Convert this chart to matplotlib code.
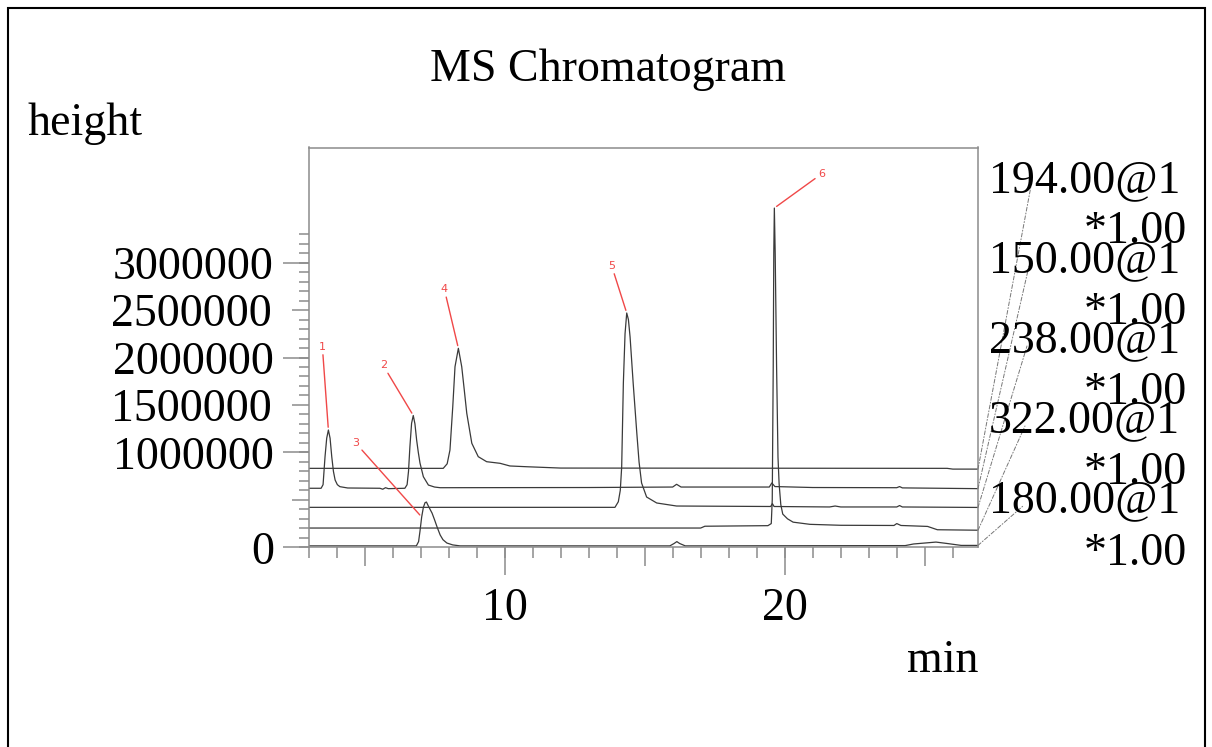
import matplotlib.pyplot as plt
import numpy as np
from matplotlib.patches import ConnectionPatch, Rectangle
from matplotlib.ticker import FixedLocator

W, H = 1212, 747

# channels, top to bottom, with their stacking offsets
channels = ['194.00@1', '150.00@1', '238.00@1', '322.00@1', '180.00@1']
scales = ['*1.00', '*1.00', '*1.00', '*1.00', '*1.00']
offsets = [800000, 600000, 400000, 200000, 0]

# time (min) and height (x 1e6)
t_194 = [3.0, 7.81, 7.95, 8.05, 8.15, 8.23, 8.35, 8.47, 8.56, 8.65, 8.83, 9.06, 9.36, 9.84, 10.19, 10.79, 12.0, 25.8, 26.0, 26.9]
h_194 = [0.032, 0.032, 0.08, 0.225, 0.682, 1.103, 1.297, 1.103, 0.86, 0.612, 0.296, 0.155, 0.102, 0.085, 0.057, 0.049, 0.035, 0.032, 0.024, 0.024]

t_150 = [3.0, 3.45, 3.52, 3.59, 3.65, 3.71, 3.77, 3.83, 3.89, 3.95, 4.03, 4.12, 4.4, 5.55, 5.65, 5.75, 5.85,
         6.44, 6.52, 6.57, 6.62, 6.68, 6.74, 6.80, 6.86, 6.92, 6.98, 7.10, 7.28, 7.5, 7.7, 13.0, 16.0, 16.14, 16.3,
         19.45, 19.54, 19.65, 21.0, 24.0, 24.1, 24.2, 26.9]
h_150 = [0.022, 0.022, 0.06, 0.355, 0.55, 0.636, 0.55, 0.355, 0.2, 0.109, 0.06, 0.039, 0.025, 0.022, 0.012, 0.028, 0.018,
         0.022, 0.06, 0.2, 0.46, 0.707, 0.789, 0.70, 0.531, 0.40, 0.288, 0.144, 0.056, 0.035, 0.028, 0.03, 0.035, 0.064, 0.035,
         0.035, 0.078, 0.04, 0.03, 0.028, 0.04, 0.026, 0.018]

t_238 = [3.0, 13.94, 14.06, 14.13, 14.18, 14.24, 14.30, 14.36, 14.42, 14.48, 14.59, 14.72, 14.80, 14.89, 15.07, 15.43, 16.14,
         19.50, 19.56, 19.62, 21.6, 21.8, 22.0, 24.0, 24.1, 24.2, 26.9]
h_238 = [0.021, 0.021, 0.08, 0.2, 0.446, 1.331, 1.85, 2.069, 2.0, 1.816, 1.331, 0.804, 0.5, 0.278, 0.13, 0.067, 0.035,
         0.03, 0.06, 0.03, 0.025, 0.035, 0.025, 0.025, 0.04, 0.025, 0.02]

t_322 = [3.0, 17.0, 17.15, 19.40, 19.52, 19.555, 19.59, 19.61, 19.63, 19.66, 19.71, 19.76, 19.80, 19.86, 19.93, 20.1, 20.3,
         20.9, 22.0, 23.9, 24.0, 24.15, 25.1, 25.45, 26.9]
h_322 = [0.003, 0.003, 0.022, 0.028, 0.05, 0.3, 1.7, 2.9, 3.375, 2.9, 1.7, 0.75, 0.47, 0.25, 0.15, 0.1, 0.065,
         0.042, 0.032, 0.03, 0.05, 0.03, 0.02, -0.015, -0.02]

t_180 = [3.0, 6.85, 6.93, 6.98, 7.04, 7.10, 7.16, 7.21, 7.27, 7.34, 7.41, 7.50, 7.59, 7.70, 7.80, 7.94, 8.15, 8.41,
         15.9, 16.05, 16.15, 16.25, 16.45, 24.3, 24.6, 25.0, 25.4, 25.8, 26.3, 26.9]
h_180 = [0.015, 0.015, 0.06, 0.17, 0.319, 0.42, 0.47, 0.477, 0.44, 0.40, 0.361, 0.29, 0.214, 0.13, 0.08, 0.045, 0.025, 0.015,
         0.015, 0.04, 0.06, 0.04, 0.015, 0.018, 0.035, 0.045, 0.055, 0.04, 0.02, 0.02]

times = [t_194, t_150, t_238, t_322, t_180]
heights = [h_194, h_150, h_238, h_322, h_180]

# numbered peaks: label, retention time, channel index
peak_ids = ['1', '2', '3', '4', '5', '6']
peak_rt = [3.71, 6.74, 7.04, 8.35, 14.36, 19.63]
peak_trace = [1, 1, 4, 0, 2, 3]
label_shift = [(-6, 83), (-30, 50), (-66, 74), (-14, 59), (-15, 47), (47, 34)]

y_major = [0, 1000000, 2000000, 3000000]
y_mid = [500000, 1500000, 2500000]
y_mid_labels = ['', '1500000', '2500000']
x_major = [10, 20]
x_mid = [5, 15, 25]

plt.rcParams['font.family'] = ['Liberation Serif', 'DejaVu Serif']
plt.rcParams['font.size'] = 33

PT = 0.72  # points per pixel at dpi 100
gray = '#8c8c8c'
red = '#f04848'


def px(x, y):
    return x / W, 1 - y / H


fig = plt.figure(figsize=(W / 100, H / 100), dpi=100)
ax = fig.add_axes([308.5 / W, 1 - 547.3 / H, (978 - 308.5) / W, (547.3 - 147.5) / H])

for t, h, off in zip(times, heights, offsets):
    ax.plot(t, np.array(h) * 1e6 + off, color='#3a3a3a', lw=0.9)

ax.set_xlim(3.0, 26.9)
ax.set_ylim(0, 4.213e6)
for s in ax.spines.values():
    s.set_color(gray)
    s.set_linewidth(1.1)

ax.xaxis.set_major_locator(FixedLocator(x_mid))
ax.set_xticklabels(['', '', ''])
ax.xaxis.set_minor_locator(FixedLocator(np.arange(3, 27, 1)))
ax.yaxis.set_major_locator(FixedLocator(y_mid))
ax.set_yticklabels(y_mid_labels)
ax.yaxis.set_minor_locator(FixedLocator(np.arange(0, 3.35e6, 1e5)))
ax.tick_params(which='both', direction='out', color=gray, width=1.1)
ax.tick_params(axis='x', which='major', length=19 * PT)
ax.tick_params(axis='x', which='minor', length=11 * PT)
ax.tick_params(axis='y', which='major', length=17 * PT, pad=20 * PT)
ax.tick_params(axis='y', which='minor', length=10 * PT)

secx = ax.secondary_xaxis('bottom')
secx.set_xticks(x_major, labels=[str(v) for v in x_major])
secx.tick_params(length=28 * PT, width=1.1, color=gray, pad=12 * PT)
secx.spines['bottom'].set_visible(False)

secy = ax.secondary_yaxis('left')
secy.set_yticks(y_major, labels=[str(v) for v in y_major])
secy.tick_params(length=26 * PT, width=1.1, color=gray, pad=8.5 * PT)
secy.spines['left'].set_visible(False)

# peak numbers
for pid, rt, ti, (dx, dy) in zip(peak_ids, peak_rt, peak_trace, label_shift):
    y = np.interp(rt, times[ti], heights[ti]) * 1e6 + offsets[ti]
    ax.annotate(pid, xy=(rt, y), xytext=(dx, dy), textcoords='offset pixels',
                ha='center', va='center', color=red, fontsize=8, family='DejaVu Sans',
                arrowprops=dict(arrowstyle='-', color=red, lw=1.0, shrinkA=0, shrinkB=2))

# channel names on the right, joined to each trace end
for i, (name, sc) in enumerate(zip(channels, scales)):
    base = 192 + 80 * i
    fig.text(*px(989, base), name, ha='left', va='baseline')
    fig.text(*px(1187, 243 + 80.5 * i), sc, ha='right', va='baseline')
    y_end = heights[i][-1] * 1e6 + offsets[i]
    con = ConnectionPatch(xyA=(times[i][-1], y_end), coordsA=ax.transData,
                          xyB=px(1031 - 2 * i, base - 6), coordsB=fig.transFigure,
                          linestyle=(0, (4, 2, 1, 2)), color='#777777', lw=0.7)
    fig.add_artist(con)

fig.text(*px(608, 81), 'MS Chromatogram', ha='center', va='baseline')
fig.text(*px(28, 135), 'height', ha='left', va='baseline')
fig.text(*px(978, 672), 'min', ha='right', va='baseline')

fig.add_artist(Rectangle((8 / W, -0.05), (1205 - 8) / W, 1.05 - 8 / H, transform=fig.transFigure,
                         fill=False, ec='black', lw=1.5))

fig.savefig('out.png', dpi=100)
